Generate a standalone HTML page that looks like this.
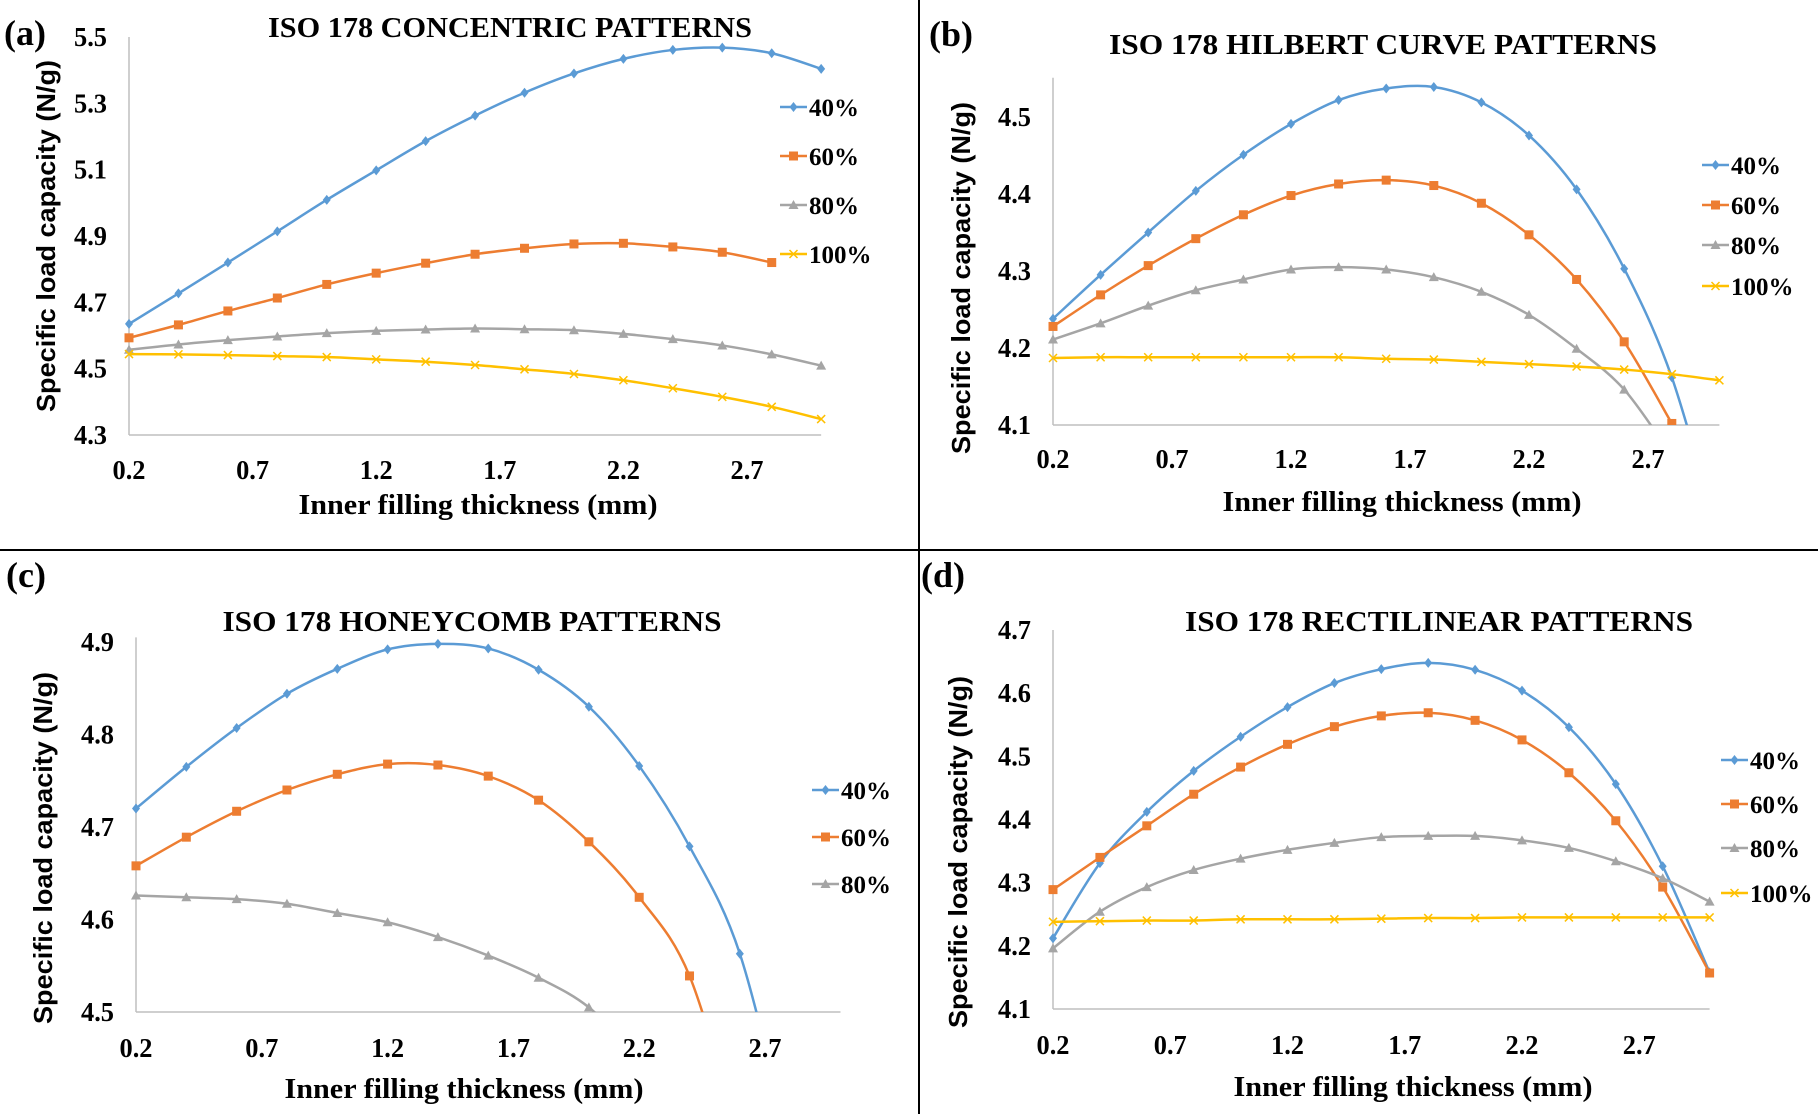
<!DOCTYPE html>
<html><head><meta charset="utf-8">
<style>
html,body{margin:0;padding:0;background:#fff;}
svg{display:block;}
.tick{font-family:"Liberation Serif",serif;font-weight:bold;font-size:27px;fill:#000;}
.ttl{font-family:"Liberation Serif",serif;font-weight:bold;font-size:28px;fill:#000;}
.xt{font-family:"Liberation Serif",serif;font-weight:bold;font-size:29px;fill:#000;}
.yt{font-family:"Liberation Sans",sans-serif;font-weight:bold;font-size:26px;fill:#000;}
.lab{font-family:"Liberation Serif",serif;font-weight:bold;font-size:36px;fill:#000;}
.leg{font-family:"Liberation Serif",serif;font-weight:bold;font-size:25px;fill:#000;}
</style></head>
<body>
<svg id="fig" width="1818" height="1114" viewBox="0 0 1818 1114" xmlns="http://www.w3.org/2000/svg">
<line x1="919" y1="0" x2="919" y2="1114" stroke="#000" stroke-width="2"/>
<line x1="0" y1="550" x2="1818" y2="550" stroke="#000" stroke-width="2"/>
</svg>
<script>
const xValues = [0.2,0.4,0.6,0.8,1.0,1.2,1.4,1.6,1.8,2.0,2.2,2.4,2.6,2.8,3.0];
const xTickLabels = ["0.2","0.7","1.2","1.7","2.2","2.7"];
const seriesNames = ["40%","60%","80%","100%"];

const aTitle = "ISO 178 CONCENTRIC PATTERNS";
const aYTicks = [4.3,4.5,4.7,4.9,5.1,5.3,5.5];
const a40 = [4.635,4.727,4.820,4.914,5.009,5.098,5.186,5.263,5.332,5.390,5.434,5.461,5.468,5.451,5.404];
const a60 = [4.593,4.632,4.674,4.713,4.754,4.788,4.818,4.845,4.863,4.876,4.878,4.867,4.851,4.820];
const a80 = [4.557,4.573,4.586,4.597,4.607,4.614,4.618,4.621,4.619,4.616,4.605,4.589,4.570,4.543,4.509];
const a100 = [4.544,4.543,4.541,4.538,4.535,4.528,4.521,4.511,4.498,4.484,4.465,4.441,4.415,4.385,4.348];

const bTitle = "ISO 178 HILBERT CURVE PATTERNS";
const bYTicks = [4.1,4.2,4.3,4.4,4.5];
const b40 = [4.238,4.295,4.350,4.404,4.451,4.491,4.522,4.537,4.539,4.519,4.476,4.406,4.303,4.162,3.95];
const b60 = [4.228,4.269,4.307,4.342,4.373,4.398,4.413,4.418,4.411,4.388,4.347,4.289,4.208,4.102];
const b80 = [4.211,4.232,4.255,4.275,4.289,4.302,4.305,4.302,4.292,4.273,4.243,4.199,4.146,4.06];
const b100 = [4.187,4.188,4.188,4.188,4.188,4.188,4.188,4.186,4.185,4.182,4.179,4.176,4.172,4.166,4.158];

const cTitle = "ISO 178 HONEYCOMB PATTERNS";
const cYTicks = [4.5,4.6,4.7,4.8,4.9];
const c40 = [4.720,4.765,4.807,4.844,4.871,4.892,4.898,4.893,4.870,4.830,4.766,4.679,4.563,4.35];
const c60 = [4.658,4.689,4.717,4.740,4.757,4.768,4.767,4.755,4.729,4.684,4.624,4.539,4.36];
const c80 = [4.626,4.624,4.622,4.617,4.607,4.597,4.581,4.561,4.537,4.505,4.45];

const dTitle = "ISO 178 RECTILINEAR PATTERNS";
const dYTicks = [4.1,4.2,4.3,4.4,4.5,4.6,4.7];
const d40 = [4.212,4.331,4.412,4.477,4.531,4.578,4.616,4.638,4.648,4.637,4.604,4.546,4.456,4.326,4.158];
const d60 = [4.289,4.340,4.390,4.440,4.483,4.519,4.547,4.564,4.569,4.557,4.526,4.474,4.398,4.293,4.157];
const d80 = [4.196,4.254,4.293,4.320,4.338,4.352,4.363,4.372,4.374,4.374,4.367,4.355,4.334,4.307,4.270];
const d100 = [4.238,4.239,4.240,4.240,4.242,4.242,4.242,4.243,4.244,4.244,4.245,4.245,4.245,4.245,4.245];

const colors = ["#5B9BD5","#ED7D31","#A5A5A5","#FFC000"];
const NS = "http://www.w3.org/2000/svg";
const svg = document.getElementById('fig');

function mk(tag, attrs, parent){
  const e = document.createElementNS(NS, tag);
  for (const k in attrs) e.setAttribute(k, attrs[k]);
  (parent||svg).appendChild(e);
  return e;
}

function marker(g, kind, x, y, col){
  let m;
  if (kind===0) m = mk('path',{d:`M${x} ${y-5}L${x+4} ${y}L${x} ${y+5}L${x-4} ${y}Z`,fill:col},g);
  else if (kind===1) m = mk('rect',{x:x-4.5,y:y-4.5,width:9,height:9,fill:col},g);
  else if (kind===2) m = mk('path',{d:`M${x} ${y-5}L${x+5} ${y+4}L${x-5} ${y+4}Z`,fill:col},g);
  else m = mk('path',{d:`M${x-4} ${y-4}L${x+4} ${y+4}M${x+4} ${y-4}L${x-4} ${y+4}`,stroke:col,'stroke-width':1.5,fill:'none'},g);
  return m;
}

function smooth(pts){
  let d = `M${pts[0][0]} ${pts[0][1]}`;
  for (let i=0;i<pts.length-1;i++){
    const p0=pts[Math.max(0,i-1)], p1=pts[i], p2=pts[i+1], p3=pts[Math.min(pts.length-1,i+2)];
    const c1x=p1[0]+(p2[0]-p0[0])/6, c1y=p1[1]+(p2[1]-p0[1])/6;
    const c2x=p2[0]-(p3[0]-p1[0])/6, c2y=p2[1]-(p3[1]-p1[1])/6;
    d += `C${c1x} ${c1y} ${c2x} ${c2y} ${p2[0]} ${p2[1]}`;
  }
  return d;
}

function panel(p){
  const g = mk('g',{});
  
  
  const X = v => p.x0 + (v-0.2)*p.xs;
  const Y = v => p.yb - (v-p.ymin)/(p.ymax-p.ymin)*(p.yb-p.yt);
  const xr = X(3.0);
  const ytop = Y(p.yAxisTop);
  const ya = mk('line',{x1:p.x0,y1:ytop,x2:p.x0,y2:p.yb,stroke:'#bfbfbf','stroke-width':1.5},g);
  
  
  const xa = mk('line',{x1:p.x0,y1:p.yb,x2:xr,y2:p.yb,stroke:'#bfbfbf','stroke-width':1.5},g);
  
  
  p.yTicks.forEach(v=>{
    const t = mk('text',{x:p.x0-22,y:Y(v)+9,'text-anchor':'end',class:'tick',textLength:33,lengthAdjust:'spacingAndGlyphs'},g);
    
    
    t.textContent = v.toFixed(1);
  });
  xTickLabels.forEach(s=>{
    const t = mk('text',{x:X(parseFloat(s)),y:p.xty,'text-anchor':'middle',class:'tick',textLength:33,lengthAdjust:'spacingAndGlyphs'},g);
    
    
    t.textContent = s;
  });
  const tt = mk('text',{x:p.tx,y:p.ty,'text-anchor':'middle',class:'ttl',textLength:p.tw,lengthAdjust:'spacingAndGlyphs'},g);
  
  
  tt.textContent = p.title;
  const xt = mk('text',{x:p.xtx,y:p.xtly,'text-anchor':'middle',class:'xt',textLength:359,lengthAdjust:'spacingAndGlyphs'},g);
  
  
  xt.textContent = 'Inner filling thickness (mm)';
  const yt = mk('text',{x:0,y:0,'text-anchor':'middle',class:'yt',textLength:352,lengthAdjust:'spacingAndGlyphs',transform:`translate(${p.ytx},${p.yty}) rotate(-90)`},g);
  
  
  yt.textContent = 'Specific load capacity (N/g)';
  const lb = mk('text',{x:p.lx,y:p.ly,class:'lab'},g);
  
  
  lb.textContent = '('+p.id+')';
  const cp = mk('clipPath',{id:'clip-'+p.id},g);
  mk('rect',{x:p.x0-10,y:ytop-20,width:xr-p.x0+25,height:p.yb-ytop+20},cp);
  const plot = mk('g',{'clip-path':`url(#clip-${p.id})`},g);
  p.series.forEach((arr,si)=>{
    const pts = arr.map((v,i)=>[X(xValues[i]),Y(v)]);
    const sg = mk('g',{},plot);
    
    
    mk('path',{d:smooth(pts),fill:'none',stroke:colors[si],'stroke-width':2.5},sg);
    pts.forEach(pt=>{
      const m = marker(sg, si, pt[0], pt[1], colors[si]);
      
      
    });
  });
  p.series.forEach((arr,si)=>{
    const y = p.legY[si];
    const lg = mk('g',{},g);
    
    
    mk('line',{x1:p.legX,y1:y,x2:p.legX+27,y2:y,stroke:colors[si],'stroke-width':2.5},lg);
    marker(lg, si, p.legX+13.5, y, colors[si]);
    const t = mk('text',{x:p.legX+29,y:y+9,class:'leg'},lg);
    t.textContent = seriesNames[si];
  });
}

panel({id:'a',title:aTitle,yTicks:aYTicks,series:[a40,a60,a80,a100],
  x0:129,xs:247.2,ymin:4.3,ymax:5.5,yb:435,yt:37,yAxisTop:5.5,xty:479,
  tx:510,ty:37,tw:484,xtx:478,xtly:514,ytx:55,yty:236,lx:4,ly:45,
  legX:780,legY:[107,156,205,254]});
panel({id:'b',title:bTitle,yTicks:bYTicks,series:[b40,b60,b80,b100],
  x0:1053,xs:238,ymin:4.1,ymax:4.5,yb:425,yt:117,yAxisTop:4.551,xty:468,
  tx:1383,ty:54,tw:548,xtx:1402,xtly:511,ytx:970,yty:278,lx:929,ly:46,
  legX:1702,legY:[165,205,245,286]});
panel({id:'c',title:cTitle,yTicks:cYTicks,series:[c40,c60,c80],
  x0:136,xs:251.6,ymin:4.5,ymax:4.9,yb:1012,yt:642,yAxisTop:4.905,xty:1057,
  tx:472,ty:631,tw:499,xtx:464,xtly:1098,ytx:52,yty:848,lx:6,ly:587,
  legX:812,legY:[790,837,884]});
panel({id:'d',title:dTitle,yTicks:dYTicks,series:[d40,d60,d80,d100],
  x0:1053,xs:234.5,ymin:4.1,ymax:4.7,yb:1009,yt:630,yAxisTop:4.7,xty:1054,
  tx:1439,ty:631,tw:508,xtx:1413,xtly:1096,ytx:967,yty:852,lx:921,ly:587,
  legX:1721,legY:[760,804,848,893]});
</script>
</body></html>
